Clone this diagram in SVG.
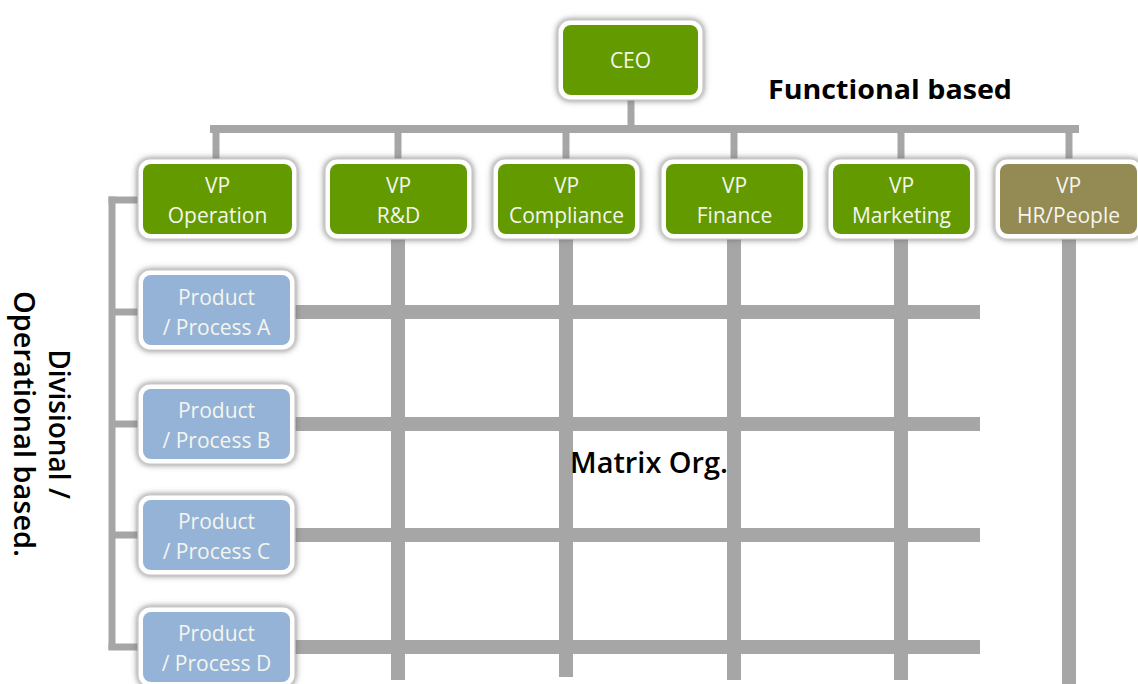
<svg xmlns="http://www.w3.org/2000/svg" width="1138" height="684" viewBox="0 0 1138 684">
<style>
.ln{stroke:#a6a6a6;fill:none;stroke-linecap:butt}
.thin{stroke-width:7}
.thick{stroke-width:14}
.outer{fill:#ffffff;stroke:#c8c8c8;stroke-width:1.2;filter:url(#glow)}
.green{fill:#639a00}
.blue{fill:#95b3d7}
.olive{fill:#948a54}
.bt{font-family:"Open Sans","Noto Sans",sans-serif;font-size:21px;fill:#f4f6ee;text-anchor:middle}
.lbl{font-family:"Open Sans","Noto Sans",sans-serif;fill:#000000}
</style>
<defs>
<filter id="glow" x="-20%" y="-30%" width="140%" height="160%">
<feDropShadow dx="0" dy="0" stdDeviation="3.2" flood-color="#707070" flood-opacity="0.95"/>
</filter>
</defs>
<rect width="1138" height="684" fill="#ffffff"/>
<g id="connectors">
<line class="ln thin" x1="631" y1="100" x2="631" y2="129"/>
<line class="ln" stroke-width="8" x1="210" y1="129" x2="1079" y2="129"/>
<line class="ln thin" x1="216" y1="129" x2="216" y2="160"/>
<line class="ln thin" x1="398" y1="129" x2="398" y2="160"/>
<line class="ln thin" x1="566" y1="129" x2="566" y2="160"/>
<line class="ln thin" x1="734" y1="129" x2="734" y2="160"/>
<line class="ln thin" x1="901" y1="129" x2="901" y2="160"/>
<line class="ln thin" x1="1069" y1="129" x2="1069" y2="160"/>
<line class="ln thick" x1="398" y1="238" x2="398" y2="680"/>
<line class="ln thick" x1="566" y1="238" x2="566" y2="677"/>
<line class="ln thick" x1="734" y1="238" x2="734" y2="680"/>
<line class="ln thick" x1="901" y1="238" x2="901" y2="680"/>
<line class="ln thick" x1="1069" y1="238" x2="1069" y2="684"/>
<line class="ln thick" x1="294" y1="312" x2="980" y2="312"/>
<line class="ln thick" x1="294" y1="424" x2="980" y2="424"/>
<line class="ln thick" x1="294" y1="535" x2="980" y2="535"/>
<line class="ln thick" x1="294" y1="647" x2="980" y2="647"/>
<line class="ln thin" x1="112" y1="196.5" x2="112" y2="650"/>
<line class="ln thin" x1="108.5" y1="200" x2="140" y2="200"/>
<line class="ln thin" x1="112" y1="312" x2="140" y2="312"/>
<line class="ln thin" x1="112" y1="424" x2="140" y2="424"/>
<line class="ln thin" x1="112" y1="535" x2="140" y2="535"/>
<line class="ln thin" x1="108.5" y1="647" x2="140" y2="647"/>
</g>
<g id="ceo">
<rect class="outer" x="558" y="20" width="145" height="80" rx="12"/>
<rect class="green" x="563" y="25" width="135" height="70" rx="8"/>
<text class="bt" x="630.5" y="68">CEO</text>
</g>
<g id="vp-operation">
<rect class="outer" x="138" y="159" width="159" height="80" rx="12"/>
<rect class="green" x="143" y="164" width="149" height="70" rx="8"/>
<text class="bt" x="217.5" y="193">VP</text>
<text class="bt" x="217.5" y="223">Operation</text>
</g>
<g id="vp-rd">
<rect class="outer" x="325" y="159" width="147" height="80" rx="12"/>
<rect class="green" x="330" y="164" width="137" height="70" rx="8"/>
<text class="bt" x="398.5" y="193">VP</text>
<text class="bt" x="398.5" y="223">R&amp;D</text>
</g>
<g id="vp-compliance">
<rect class="outer" x="493" y="159" width="147" height="80" rx="12"/>
<rect class="green" x="498" y="164" width="137" height="70" rx="8"/>
<text class="bt" x="566.5" y="193">VP</text>
<text class="bt" x="566.5" y="223">Compliance</text>
</g>
<g id="vp-finance">
<rect class="outer" x="661" y="159" width="147" height="80" rx="12"/>
<rect class="green" x="666" y="164" width="137" height="70" rx="8"/>
<text class="bt" x="734.5" y="193">VP</text>
<text class="bt" x="734.5" y="223">Finance</text>
</g>
<g id="vp-marketing">
<rect class="outer" x="828" y="159" width="147" height="80" rx="12"/>
<rect class="green" x="833" y="164" width="137" height="70" rx="8"/>
<text class="bt" x="901.5" y="193">VP</text>
<text class="bt" x="901.5" y="223">Marketing</text>
</g>
<g id="vp-hr">
<rect class="outer" x="995" y="159" width="147" height="80" rx="12"/>
<rect class="olive" x="1000" y="164" width="137" height="70" rx="8"/>
<text class="bt" x="1068.5" y="193">VP</text>
<text class="bt" x="1068.5" y="223">HR/People</text>
</g>
<g id="product-a">
<rect class="outer" x="138" y="270" width="157" height="80" rx="12"/>
<rect class="blue" x="143" y="275" width="147" height="70" rx="8"/>
<text class="bt" x="216.5" y="305">Product</text>
<text class="bt" x="216.5" y="335">/ Process A</text>
</g>
<g id="product-b">
<rect class="outer" x="138" y="384" width="157" height="80" rx="12"/>
<rect class="blue" x="143" y="389" width="147" height="70" rx="8"/>
<text class="bt" x="216.5" y="418">Product</text>
<text class="bt" x="216.5" y="448">/ Process B</text>
</g>
<g id="product-c">
<rect class="outer" x="138" y="495" width="157" height="80" rx="12"/>
<rect class="blue" x="143" y="500" width="147" height="70" rx="8"/>
<text class="bt" x="216.5" y="529">Product</text>
<text class="bt" x="216.5" y="559">/ Process C</text>
</g>
<g id="product-d">
<rect class="outer" x="138" y="607" width="157" height="80" rx="12"/>
<rect class="blue" x="143" y="612" width="147" height="70" rx="8"/>
<text class="bt" x="216.5" y="641">Product</text>
<text class="bt" x="216.5" y="671">/ Process D</text>
</g>
<g id="labels">
<text class="lbl" x="768" y="99" font-size="27" font-weight="700" textLength="244" lengthAdjust="spacingAndGlyphs">Functional based</text>
<text class="lbl" x="570" y="473" font-size="28" font-weight="600" textLength="158" lengthAdjust="spacingAndGlyphs">Matrix Org.</text>
<g transform="translate(49,424) rotate(90)">
<text class="lbl" x="0" y="0" font-size="28" font-weight="600" text-anchor="middle">Divisional /</text>
<text class="lbl" x="0" y="35" font-size="28" font-weight="600" text-anchor="middle" textLength="266" lengthAdjust="spacingAndGlyphs">Operational based.</text>
</g>
</g>
</svg>
